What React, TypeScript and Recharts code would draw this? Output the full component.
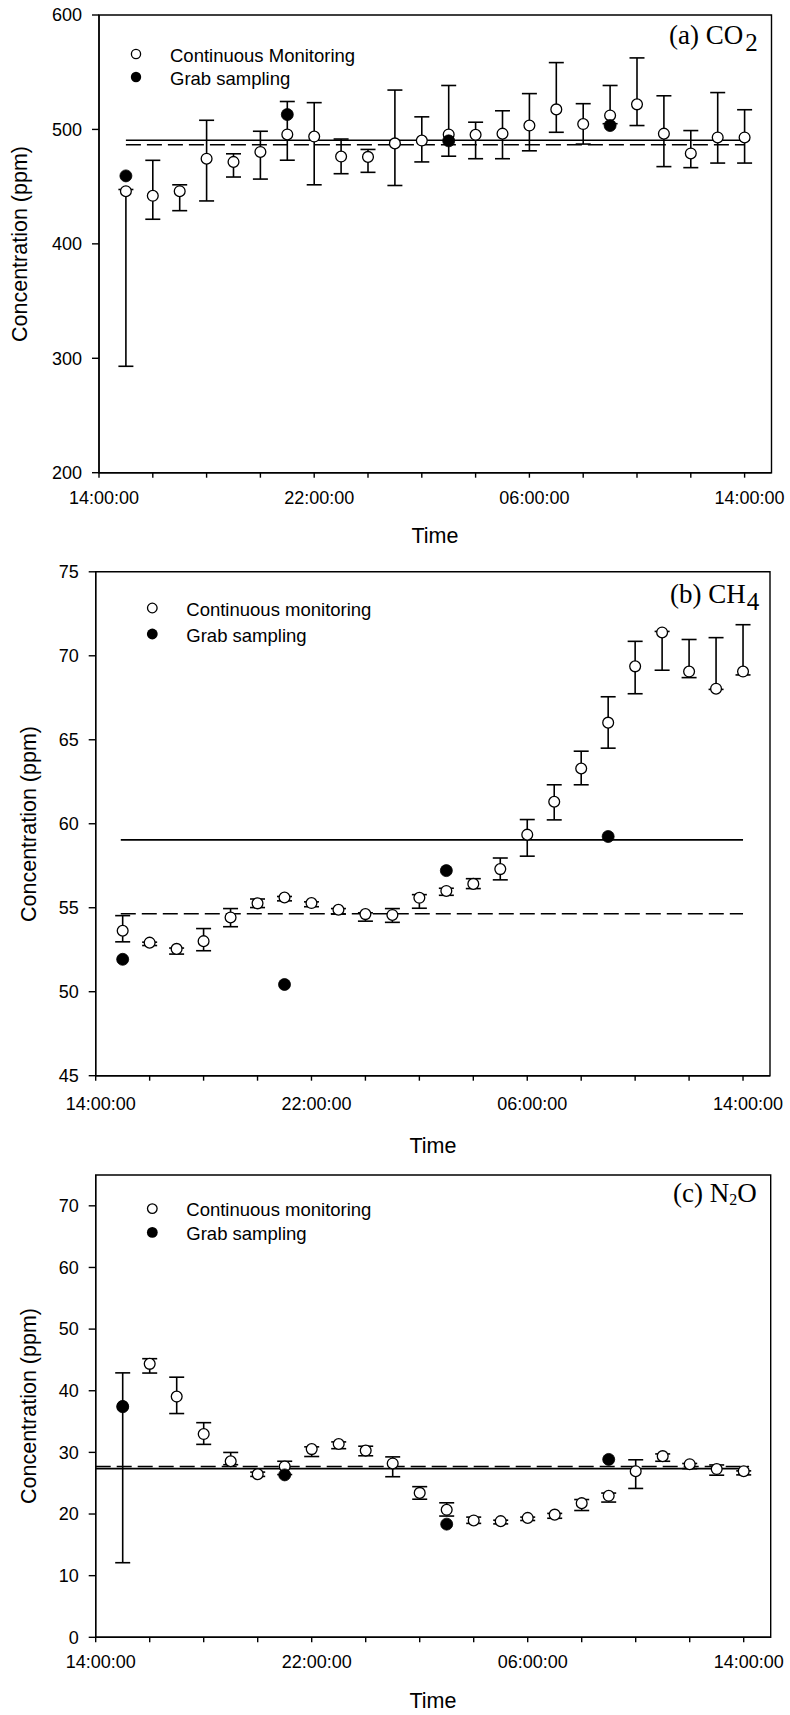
import React from 'react';
import { ScatterChart, Scatter, XAxis, YAxis, ErrorBar, ReferenceLine, ReferenceArea } from 'recharts';

// ---------- shared axis data ----------
const hours = [1, 2, 3, 4, 5, 6, 7, 8, 9, 10, 11, 12, 13, 14, 15, 16, 17, 18, 19, 20, 21, 22, 23, 24];
const xTicks = [0, 2, 4, 6, 8, 10, 12, 14, 16, 18, 20, 22, 24];
const xTickLabels: Record<number, string> = { 0: '14:00:00', 8: '22:00:00', 16: '06:00:00', 24: '14:00:00' };
const grabHours = [1, 7, 13, 19];

// ---------- (a) CO2 ----------
const co2Mean = [446, 442, 446, 474.4, 471.6, 480.3, 495.6, 493.8, 476.3, 476, 487.8, 490.3, 495.6, 495.3, 496.3, 503.4, 517.5, 504.7, 512.2, 521.9, 496.3, 479, 493, 493];
const co2Upper = [447.5, 473, 451.6, 508, 478.7, 498.4, 524.4, 523.4, 491.6, 482.5, 534.4, 511, 538.4, 506.3, 516.3, 531.3, 558.4, 522.5, 538.4, 562.5, 529.4, 499, 532.2, 517.2];
const co2Lower = [293, 421.5, 429, 437.5, 458.4, 456.6, 473.1, 451.6, 461.3, 462.5, 451, 471.6, 476.6, 474.4, 474.4, 481.3, 497.5, 487.2, 505, 503.4, 467.5, 466.6, 470.6, 470.6];
const co2Grab = [459.4, 513, 490, 503.4];
const co2YTicks = [200, 300, 400, 500, 600];
const co2SolidLine = 490.6;
const co2DashedLine = 486.6;

// ---------- (b) CH4 ----------
const ch4Mean = [53.63, 52.92, 52.55, 53.01, 54.42, 55.26, 55.61, 55.28, 54.88, 54.62, 54.57, 55.59, 56.0, 56.42, 57.3, 59.35, 61.31, 63.29, 66.02, 69.37, 71.39, 69.06, 68.04, 69.06];
const ch4Upper = [54.53, 52.95, 52.6, 53.76, 54.95, 55.52, 55.67, 55.35, 54.95, 54.7, 54.95, 55.78, 56.16, 56.73, 57.96, 60.25, 62.32, 64.32, 67.56, 70.86, 71.45, 70.97, 71.08, 71.85];
const ch4Lower = [52.97, 52.75, 52.24, 52.44, 53.87, 55.01, 55.41, 55.06, 54.62, 54.2, 54.13, 54.97, 55.74, 56.14, 56.66, 58.07, 60.23, 62.32, 64.5, 67.74, 69.14, 68.7, 68.0, 68.86];
const ch4Grab = [51.93, 50.43, 57.21, 59.24];
const ch4YTicks = [45, 50, 55, 60, 65, 70, 75];
const ch4SolidLine = 59.04;
const ch4DashedLine = 54.64;

// ---------- (c) N2O ----------
const n2oMean = [37.5, 44.36, 39.05, 32.97, 28.56, 26.47, 27.72, 30.53, 31.36, 30.29, 28.2, 23.43, 20.69, 18.96, 18.84, 19.37, 19.9, 21.76, 22.95, 26.95, 29.39, 28.08, 27.3, 26.95];
const n2oUpper = [42.9, 45.2, 42.2, 34.82, 29.99, 26.8, 28.56, 30.9, 31.7, 31.0, 29.27, 24.44, 21.82, 19.5, 19.0, 19.5, 20.1, 22.35, 23.4, 28.8, 29.75, 28.2, 27.96, 27.0];
const n2oLower = [12.1, 42.87, 36.3, 31.3, 28.0, 26.1, 26.4, 29.33, 30.6, 29.45, 26.05, 22.4, 19.67, 18.48, 18.4, 18.95, 19.31, 20.57, 21.94, 24.15, 28.56, 27.36, 26.3, 26.35];
const n2oGrab = [37.4, 26.35, 18.36, 28.86];
const n2oYTicks = [0, 10, 20, 30, 40, 50, 60, 70];
const n2oSolidLine = 27.36;
const n2oDashedLine = 27.72;

const contRows = (mean: number[], upper: number[], lower: number[]) =>
  hours.map((h, i) => ({ h, v: mean[i], err: [mean[i] - lower[i], upper[i] - mean[i]] }));
const grabRows = (vals: number[]) => grabHours.map((h, i) => ({ h, v: vals[i] }));

const SANS = '"Liberation Sans", Arial, sans-serif';
const SERIF = '"Liberation Serif", "Times New Roman", serif';

const OpenDot = (p: any) => (
  <circle cx={p.cx} cy={p.cy} r={5.4} fill="#fff" stroke="#000" strokeWidth={1.3} />
);
const FilledDot = (p: any) => <circle cx={p.cx} cy={p.cy} r={6} fill="#000" stroke="#000" strokeWidth={0.8} />;

const makeXTick = (off: number) => (p: any) => {
  const lab = xTickLabels[p.payload?.value];
  if (!lab) return <g />;
  return (
    <text x={p.x + 5} y={p.y + off} textAnchor="middle" dominantBaseline="central" fontSize={18} fontFamily={SANS} fill="#000">
      {lab}
    </text>
  );
};

type LineSpec = { y: number; x1: number; x2: number };

type PanelProps = {
  top: number;
  height: number;
  margin: { top: number; right: number; bottom: number; left: number };
  yDomain: [number, number];
  yTicks: number[];
  cont: any[];
  grab: any[];
  solid: LineSpec;
  dashed: LineSpec;
  xLabelOff: number;
};

function Panel(p: PanelProps) {
  return (
    <div style={{ position: 'absolute', left: 0, top: p.top, width: 790, height: p.height }}>
      <ScatterChart width={790} height={p.height} margin={p.margin}>
        <XAxis
          type="number"
          dataKey="h"
          domain={[0, 25]}
          ticks={xTicks}
          interval={0}
          allowDataOverflow
          height={40}
          tickSize={5}
          tickMargin={0}
          axisLine={{ stroke: '#000', strokeWidth: 1.4 }}
          tickLine={{ stroke: '#000', strokeWidth: 1.4 }}
          tick={makeXTick(p.xLabelOff)}
        />
        <YAxis
          type="number"
          dataKey="v"
          domain={p.yDomain}
          ticks={p.yTicks}
          interval={0}
          allowDataOverflow
          width={60}
          tickSize={7}
          tickMargin={10}
          axisLine={{ stroke: '#000', strokeWidth: 1.4 }}
          tickLine={{ stroke: '#000', strokeWidth: 1.4 }}
          tick={{ fontSize: 18, fill: '#000', fontFamily: SANS }}
        />
        <ReferenceArea
          x1={0}
          x2={25}
          y1={p.yDomain[0]}
          y2={p.yDomain[1]}
          fill="none"
          fillOpacity={0}
          stroke="#000"
          strokeWidth={1.4}
          ifOverflow="visible"
        />
        <ReferenceLine
          segment={[{ x: p.solid.x1, y: p.solid.y }, { x: p.solid.x2, y: p.solid.y }]}
          stroke="#000"
          strokeWidth={1.6}
        />
        <ReferenceLine
          segment={[{ x: p.dashed.x1, y: p.dashed.y }, { x: p.dashed.x2, y: p.dashed.y }]}
          stroke="#000"
          strokeWidth={1.5}
          strokeDasharray="15 6"
        />
        <Scatter data={p.cont} shape={OpenDot} isAnimationActive={false}>
          <ErrorBar dataKey="err" direction="y" width={7.5} stroke="#000" strokeWidth={1.6} isAnimationActive={false} />
        </Scatter>
        <Scatter data={p.grab} shape={FilledDot} isAnimationActive={false} />
      </ScatterChart>
    </div>
  );
}

function Legend({ x, y1, y2, r, first }: { x: number; y1: number; y2: number; r: number; first: string }) {
  return (
    <g fontFamily={SANS} fontSize={18.5} fill="#000">
      <circle cx={x} cy={y1} r={r} fill="#fff" stroke="#000" strokeWidth={1.3} />
      <circle cx={x} cy={y2} r={r + 0.6} fill="#000" />
      <text x={x + 34} y={y1 + 1} dominantBaseline="central">{first}</text>
      <text x={x + 34} y={y2 + 1} dominantBaseline="central">Grab sampling</text>
    </g>
  );
}

export default function App() {
  return (
    <div style={{ position: 'absolute', left: 0, top: 0, width: 790, height: 1715, background: '#fff' }}>
      <Panel
        top={0}
        height={560}
        margin={{ top: 15, right: 18.5, bottom: 47.3, left: 39 }}
        yDomain={[200, 600]}
        yTicks={co2YTicks}
        cont={contRows(co2Mean, co2Upper, co2Lower)}
        grab={grabRows(co2Grab)}
        solid={{ y: co2SolidLine, x1: 1, x2: 24.2 }}
        dashed={{ y: co2DashedLine, x1: 1, x2: 24 }}
        xLabelOff={20}
      />
      <Panel
        top={560}
        height={580}
        margin={{ top: 11.8, right: 20, bottom: 24.3, left: 35.7 }}
        yDomain={[45, 75]}
        yTicks={ch4YTicks}
        cont={contRows(ch4Mean, ch4Upper, ch4Lower)}
        grab={grabRows(ch4Grab)}
        solid={{ y: ch4SolidLine, x1: 0.93, x2: 24 }}
        dashed={{ y: ch4DashedLine, x1: 0.93, x2: 24 }}
        xLabelOff={23}
      />
      <Panel
        top={1140}
        height={575}
        margin={{ top: 35, right: 19.3, bottom: 37.7, left: 35.7 }}
        yDomain={[0, 75]}
        yTicks={n2oYTicks}
        cont={contRows(n2oMean, n2oUpper, n2oLower)}
        grab={grabRows(n2oGrab)}
        solid={{ y: n2oSolidLine, x1: 0, x2: 24.2 }}
        dashed={{ y: n2oDashedLine, x1: 0, x2: 24.2 }}
        xLabelOff={20}
      />
      <svg width={790} height={1715} style={{ position: 'absolute', left: 0, top: 0, pointerEvents: 'none' }}>
        {/* titles */}
        <text x={669} y={43.5} fontFamily={SERIF} fontSize={27} fill="#000">
          (a) CO<tspan dx={2} dy={7} fontSize={25}>2</tspan>
        </text>
        <text x={670} y={602.5} fontFamily={SERIF} fontSize={27} fill="#000">
          (b) CH<tspan dx={1} dy={7.5} fontSize={25}>4</tspan>
        </text>
        <text x={673} y={1201.7} fontFamily={SERIF} fontSize={27} fill="#000">
          (c) N<tspan dy={3} fontSize={16}>2</tspan><tspan dy={-3}>O</tspan>
        </text>
        {/* legends */}
        <Legend x={136} y1={54} y2={77} r={4.6} first="Continuous Monitoring" />
        <Legend x={152.3} y1={608} y2={634} r={4.8} first="Continuous monitoring" />
        <Legend x={152.3} y1={1208.6} y2={1232.4} r={4.8} first="Continuous monitoring" />
        {/* axis titles */}
        <g fontFamily={SANS} fontSize={21.5} fill="#000" textAnchor="middle">
          <text x={27} y={244} transform="rotate(-90 27 244)">Concentration (ppm)</text>
          <text x={36} y={824} transform="rotate(-90 36 824)">Concentration (ppm)</text>
          <text x={36} y={1406} transform="rotate(-90 36 1406)">Concentration (ppm)</text>
          <text x={435} y={536} dominantBaseline="central">Time</text>
          <text x={433} y={1146} dominantBaseline="central">Time</text>
          <text x={433} y={1701} dominantBaseline="central">Time</text>
        </g>
      </svg>
    </div>
  );
}
